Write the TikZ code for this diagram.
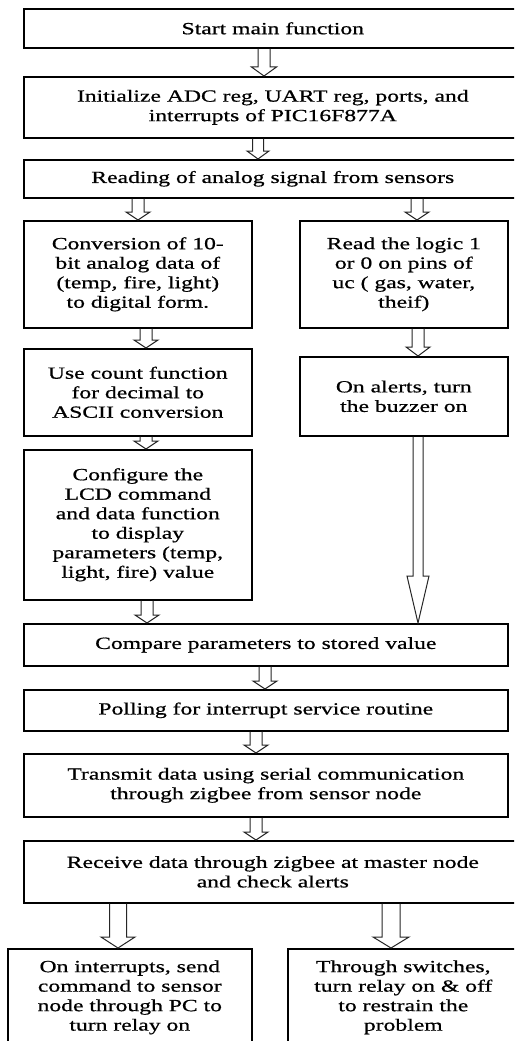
\documentclass[tikz,border=0pt]{standalone}
\usepackage{fontspec}
\setmainfont{Liberation Serif}[FakeStretch=1.39,FakeBold=0.7]
\usetikzlibrary{calc}
\tikzset{
  box/.style={draw, line width=1.6pt, anchor=north west, align=center, inner sep=0pt,
    font=\fontsize{17}{19.5}\selectfont},
  harr/.style={draw=black!85, line width=1pt, line join=miter}
}
% hollow block arrow: #1 x, #2 from node, #3 to node, #4 shaft half width, #5 head half width, #6 head length
\newcommand{\harrow}[6]{%
  \draw[harr] ($(#2.south -| #1,0)+(-#4,0)$) -- ($(#3.north -| #1,0)+(-#4,-#6)$) -- ++(#4-#5,0)
    -- (#3.north -| #1,0) -- ($(#3.north -| #1,0)+(#5,-#6)$) -- ++(#4-#5,0)
    -- ($(#2.south -| #1,0)+(#4,0)$);
}
\begin{document}
\begin{tikzpicture}[x=1pt,y=-1pt]
\useasboundingbox (0,0) rectangle (514,1041);
\clip (0,0) rectangle (514,1041);
\fill[white] (0,0) rectangle (514,1041);

\node[box, minimum width=498pt, minimum height=39pt] (start) at (23,8) {Start main function};
\node[box, minimum width=498pt, minimum height=61pt] (init) at (23,76) {Initialize ADC reg, UART reg, ports, and\\interrupts of PIC16F877A};
\node[box, minimum width=498pt, minimum height=38pt] (reading) at (23,159) {Reading of analog signal from sensors};
\node[box, minimum width=228pt, minimum height=107pt] (conv) at (23,220) {Conversion of 10-\\bit analog data of\\(temp, fire, light)\\to digital form.};
\node[box, minimum width=208pt, minimum height=107pt] (logic) at (299,220) {Read the logic 1\\or 0 on pins of\\uc ( gas, water,\\theif)};
\node[box, minimum width=228pt, minimum height=87pt] (use) at (23,348) {Use count function\\for decimal to\\ASCII conversion};
\node[box, minimum width=208pt, minimum height=79pt] (alerts) at (299,356) {On alerts, turn\\the buzzer on};
\node[box, minimum width=228pt, minimum height=150pt] (config) at (23,449) {Configure the\\LCD command\\and data function\\to display\\parameters (temp,\\light, fire) value};
\node[box, minimum width=484pt, minimum height=42pt] (compare) at (23,623) {Compare parameters to stored value};
\node[box, minimum width=484pt, minimum height=41pt] (poll) at (23,689) {Polling for interrupt service routine};
\node[box, minimum width=484pt, minimum height=63pt] (trans) at (23,753) {Transmit data using serial communication\\through zigbee from sensor node};
\node[box, minimum width=498pt, minimum height=62pt] (recv) at (23,840) {Receive data through zigbee at master node\\and check alerts};
\node[box, minimum width=244pt, minimum height=97pt] (outL) at (7,948) {On interrupts, send\\command to sensor\\node through PC to\\turn relay on};
\node[box, minimum width=231pt, minimum height=97pt] (outR) at (287,948) {Through switches,\\turn relay on \& off\\to restrain the\\problem};

\harrow{264}{start}{init}{6}{12.5}{9}
\harrow{258}{init}{reading}{5.5}{11}{8}
\harrow{138}{reading}{conv}{6}{12}{8}
\harrow{417}{reading}{logic}{6}{12}{8}
\harrow{146}{conv}{use}{6}{12}{8}
\harrow{418}{logic}{alerts}{6}{12}{9}
\harrow{146}{use}{config}{6}{12}{8}
\harrow{418}{alerts}{compare}{5}{11}{47}
\harrow{147}{config}{compare}{6}{12}{8}
\harrow{265}{compare}{poll}{6}{12}{8}
\harrow{256}{poll}{trans}{6}{12}{8}
\harrow{256}{trans}{recv}{6}{12}{8}
\harrow{118}{recv}{outL}{8.5}{17}{11}
\harrow{391}{recv}{outR}{9}{18}{11}
\end{tikzpicture}
\end{document}
